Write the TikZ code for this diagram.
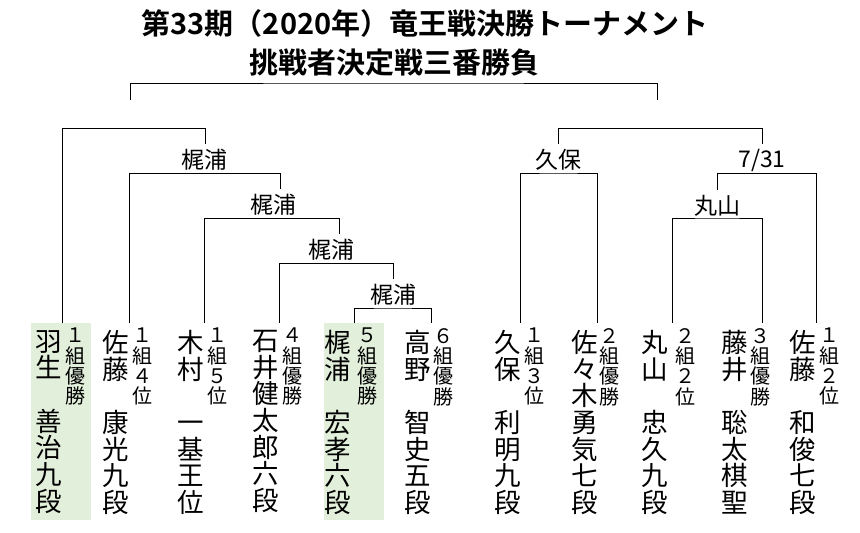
\documentclass[tikz,border=0pt]{standalone}
\usepackage{fontspec}
\newfontfamily\jp{Noto Sans CJK JP}[BoldFont={Noto Sans CJK JP Bold}]
\usetikzlibrary{calc}
\definecolor{winbg}{HTML}{E2EFDA}
\tikzset{
  every node/.style={font=\jp,text=black},
  bracket/.style={line width=1pt,draw=black},
  headline/.style={font=\jp\bfseries\fontsize{29}{31}\selectfont,inner sep=0},
  winner/.style={font=\jp\fontsize{23}{25}\selectfont,inner sep=5pt},
  player/.style={font=\jp\fontsize{26.5}{26.7}\selectfont,align=center,inner sep=0,anchor=north},
  seed/.style={font=\jp\fontsize{20}{20.3}\selectfont,align=center,inner sep=0,anchor=north}
}

\begin{document}
\begin{tikzpicture}[x=1pt,y=-1pt]
  \path[use as bounding box] (0,0) rectangle (860,533);
  \node[headline] (title) at (425,23) {第33期（2020年）竜王戦決勝トーナメント};
  \node[headline] (sub) at (394,63) {挑戦者決定戦三番勝負};

  % shaded columns of the two finalists
  \fill[winbg] (31,323) rectangle (91,520);
  \fill[winbg] (324,323) rectangle (384,520);

  % players: line x / name x / seed x / name / seed
  \foreach \i/\x/\nx/\lx/\nm/\rk in {
      1/62/48.5/75/{羽\\生\\　\\善\\治\\九\\段}/{１\\組\\優\\勝},
      2/129/115.5/142.5/{佐\\藤\\　\\康\\光\\九\\段}/{１\\組\\４\\位},
      3/204/191/217.5/{木\\村\\　\\一\\基\\王\\位}/{１\\組\\５\\位},
      4/279/265.5/292.5/{石\\井\\健\\太\\郎\\六\\段}/{４\\組\\優\\勝},
      5/354/337.5/367/{梶\\浦\\　\\宏\\孝\\六\\段}/{５\\組\\優\\勝},
      6/431/417.5/443.5/{高\\野\\　\\智\\史\\五\\段}/{６\\組\\優\\勝},
      7/520/507.5/534/{久\\保\\　\\利\\明\\九\\段}/{１\\組\\３\\位},
      8/597/584.5/609.5/{佐\\々\\木\\勇\\気\\七\\段}/{２\\組\\優\\勝},
      9/672/654.5/685/{丸\\山\\　\\忠\\久\\九\\段}/{２\\組\\２\\位},
      10/762/735/760/{藤\\井\\　\\聡\\太\\棋\\聖}/{３\\組\\優\\勝},
      11/816/802.5/829/{佐\\藤\\　\\和\\俊\\七\\段}/{１\\組\\２\\位}} {
    \coordinate (p\i) at (\x,323);
    \node[player] (n\i) at (\nx,330) {\nm};
    \node[seed] (r\i) at (\lx,328) {\rk};
  }

  % match results
  \node[winner] (kA) at (393,295) {梶浦};
  \node[winner] (kB) at (331,250) {梶浦};
  \node[winner] (kC) at (273,205) {梶浦};
  \node[winner] (kD) at (204,160) {梶浦};
  \node[winner] (kF) at (558,160) {久保};
  \node[winner] (kG) at (717,206) {丸山};
  \node[winner] (kH) at (762,160) {7/31};

  \coordinate (hA) at (393,308);
  \coordinate (sA) at (393,263);
  \coordinate (sB) at (339,218);
  \coordinate (sC) at (280,173);
  \coordinate (sD) at (205,128);
  \coordinate (hF) at (558,173);
  \coordinate (hG) at (717,218);
  \coordinate (sG) at (717,173);
  \coordinate (sH) at (762,128);
  \coordinate (sL) at (130,100);
  \coordinate (sR) at (657,100);
  \coordinate (fin) at (393,83);

  % brackets
  \draw[bracket] (p5) |- (hA) -| (p6);
  \draw[bracket] (p4) |- (sA) -- (kA.north);
  \draw[bracket] (p3) |- (sB) -- (sB |- kB.north);
  \draw[bracket] (p2) |- (sC) -- (sC |- kC.north);
  \draw[bracket] (p1) |- (sD) -- (sD |- kD.north);
  \draw[bracket] (p7) |- (hF) -| (p8);
  \draw[bracket] (p9) |- (hG) -| (p10);
  \draw[bracket] (p11) |- (sG) -- (kG.north);
  \draw[bracket] (kF.north) |- (sH) -- (kH.north);
  \draw[bracket] (sL) |- (fin) -| (sR);
\end{tikzpicture}
\end{document}
